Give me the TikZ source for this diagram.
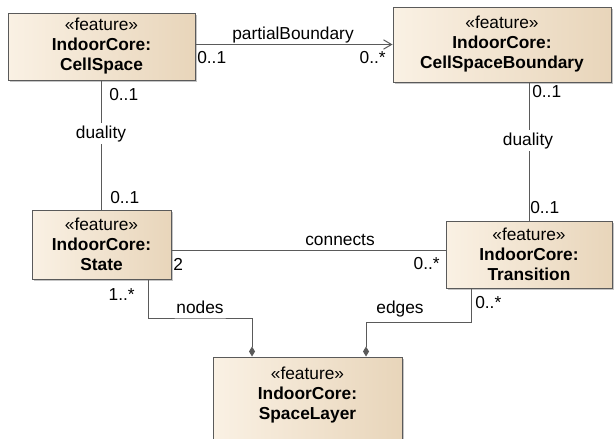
\documentclass[tikz,border=0pt]{standalone}
\usepackage{fontspec}
\setmainfont{Liberation Sans}
\usetikzlibrary{arrows.meta,calc,shadows}

\definecolor{clsleft}{HTML}{FAF1E4}
\definecolor{clsright}{HTML}{E8D5BA}
\definecolor{edgegray}{HTML}{5A5A5A}

% class box text: stereotype on top, qualified name in bold
\newcommand{\featcls}[1]{«feature»\\\textbf{IndoorCore:}\\\textbf{#1}}

\begin{document}
\begin{tikzpicture}[
  x=0.75pt, y=-0.75pt,
  font=\fontsize{13}{15}\selectfont,
  cls/.style={draw=edgegray, line width=0.75pt, left color=clsleft, right color=clsright,
              align=center, inner sep=0pt,
              drop shadow={shadow xshift=1.5pt, shadow yshift=-1.5pt, fill=black!45, opacity=0.5}},
  assoc/.style={draw=edgegray, line width=0.75pt},
  nav/.style={assoc, -{Straight Barb[length=6pt, width=7pt]}},
  comp/.style={assoc, -{Diamond[length=7.5pt, width=4.5pt]}},
  lab/.style={inner sep=0pt, text=black},
  gap/.style={lab, fill=white, inner sep=2pt}
]
\useasboundingbox[fill=white] (0,0) rectangle (614,439);

% ================= classes =================
\node[cls, minimum width=140.25pt, minimum height=50.25pt] (cs) at (101.5,46.5) {\featcls{CellSpace}};
\node[cls, minimum width=163.5pt, minimum height=56.25pt] (csb) at (502,44.5) {\featcls{CellSpaceBoundary}};
\node[cls, minimum width=104.25pt, minimum height=51.75pt] (st) at (101.5,244.5) {\featcls{State}};
\node[cls, minimum width=124.5pt, minimum height=50.25pt] (tr) at (529,254.5) {\featcls{Transition}};
% extra empty line keeps the text at the top of the tall box
\node[cls, minimum width=141.75pt, minimum height=69pt] (sl) at (307.5,403) {\featcls{SpaceLayer}\\\mbox{}};

% ================= associations =================
\draw[nav] (cs.east |- csb.west) -- (csb.west);
\node[lab, anchor=base] (pbname) at (293,39) {partialBoundary};
\node[lab, anchor=base west] (pbsrc) at (197,63) {0..1};
\node[lab, anchor=base east] (pbdst) at (386,63) {0..*};

\draw[assoc] (cs.south) -- (st.north);
\node[gap, anchor=base] (duall) at (101,138) {duality};
\node[lab, anchor=base west] (dualltop) at (109,100) {0..1};
\node[lab, anchor=base west] (dualllow) at (110,203) {0..1};

\draw[assoc] (tr.north |- csb.south) -- (tr.north);
\node[gap, anchor=base] (dualr) at (528,145) {duality};
\node[lab, anchor=base west] (dualrtop) at (532,97) {0..1};
\node[lab, anchor=base west] (dualrlow) at (530,213) {0..1};

\coordinate (conna) at ($(st.east)+(0,5.5)$);
\draw[assoc] (conna) -- (conna -| tr.west);
\node[lab, anchor=base] (conname) at (340,245) {connects};
\node[lab, anchor=base west] (consrc) at (173,270) {2};
\node[lab, anchor=base east] (condst) at (440,269) {0..*};

% ================= compositions into the layer =================
\coordinate (nodesa) at ($(st.south)+(46.5,0)$);
\coordinate (nodesb) at ($(sl.north)+(-55.5,0)$);
\draw[comp] (nodesa) |- ($(nodesa)!0.5!(nodesb)$) -| (nodesb);
\node[lab, anchor=base] (nodesname) at (200,313) {nodes};
\node[lab, anchor=base east] (nodesmul) at (135,300) {1..*};

\coordinate (edgesa) at ($(tr.south)+(-58,0)$);
\coordinate (edgesb) at ($(sl.north)+(58.5,0)$);
\draw[comp] (edgesa) |- ($(edgesa)!0.5!(edgesb)$) -| (edgesb);
\node[lab, anchor=base] (edgesname) at (400,313) {edges};
\node[lab, anchor=base west] (edgesmul) at (475,308) {0..*};

\end{tikzpicture}
\end{document}
